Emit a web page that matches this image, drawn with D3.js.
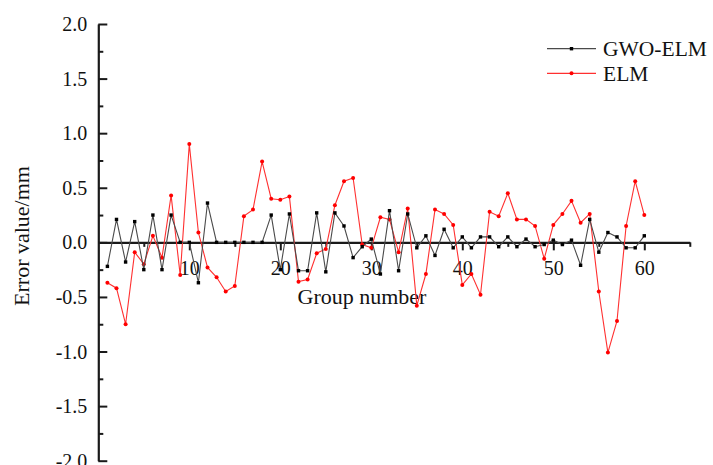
<!DOCTYPE html>
<html>
<head>
<meta charset="utf-8">
<script src="https://cdn.jsdelivr.net/npm/d3@7"></script>
<style>
  body { margin: 0; background: #fff; }
  svg text { font-family: "Liberation Serif", "Times New Roman", serif; fill: #111; }
</style>
</head>
<body>
<div id="chart-area"></div>
<script>
// group numbers 1..60
var groups = [];
for (var i = 1; i <= 60; i++) groups.push(i);

var gwoElm = [
  -0.22, 0.21, -0.18, 0.19, -0.25, 0.25, -0.25, 0.25, 0.00, 0.00,
  -0.37, 0.36, 0.00, 0.00, 0.00, 0.00, 0.00, 0.00, 0.25, -0.25,
  0.26, -0.26, -0.26, 0.27, -0.27, 0.27, 0.15, -0.14, -0.04, 0.03,
  -0.29, 0.29, -0.26, 0.26, -0.05, 0.06, -0.12, 0.12, -0.05, 0.05,
  -0.05, 0.05, 0.05, -0.04, 0.05, -0.04, 0.03, -0.04, -0.02, 0.02,
  -0.02, 0.02, -0.21, 0.21, -0.09, 0.09, 0.05, -0.05, -0.05, 0.06
];

var elm = [
  -0.37, -0.42, -0.75, -0.09, -0.20, 0.06, -0.14, 0.43, -0.30, 0.90,
  0.09, -0.23, -0.32, -0.45, -0.40, 0.24, 0.30, 0.74, 0.40, 0.39,
  0.42, -0.36, -0.34, -0.10, -0.06, 0.34, 0.56, 0.59, -0.02, -0.05,
  0.23, 0.21, -0.09, 0.31, -0.58, -0.29, 0.30, 0.26, 0.16, -0.39,
  -0.29, -0.48, 0.28, 0.24, 0.45, 0.21, 0.21, 0.15, -0.15, 0.16,
  0.26, 0.38, 0.18, 0.26, -0.45, -1.01, -0.72, 0.15, 0.56, 0.25
];

var seriesNames = ["GWO-ELM", "ELM"];
var xMajorTicks = [10, 20, 30, 40, 50, 60];
var xMinorTicks = [5, 15, 25, 35, 45, 55, 65];
var yMajorTicks = [-2.0, -1.5, -1.0, -0.5, 0.0, 0.5, 1.0, 1.5, 2.0];
var yMinorTicks = [-1.75, -1.25, -0.75, -0.25, 0.25, 0.75, 1.25, 1.75];

var W = 713, H = 465;

var svg = d3.select("#chart-area")
    .append("svg")
    .attr("width", W)
    .attr("height", H);

var x = d3.scaleLinear().domain([0, 65]).range([98.3, 689.8]);
var y = d3.scaleLinear().domain([-2, 2]).range([460.7, 24]);

// Y AXIS (ticks point inward)
var yAxisG = svg.append("g")
    .attr("transform", "translate(" + x(0) + ",0)")
    .call(d3.axisLeft(y)
        .tickValues(yMajorTicks)
        .tickSizeInner(-9)
        .tickSizeOuter(0)
        .tickPadding(11)
        .tickFormat(function (d) { return d.toFixed(1); }));

svg.append("g")
    .attr("transform", "translate(" + x(0) + ",0)")
    .call(d3.axisLeft(y)
        .tickValues(yMinorTicks)
        .tickSizeInner(-5)
        .tickSizeOuter(0)
        .tickFormat(""))
    .select(".domain").remove();

yAxisG.selectAll("text").attr("font-size", "20px").attr("dy", "0.33em");

// X AXIS at y = 0
var xAxisG = svg.append("g")
    .attr("transform", "translate(0," + y(0) + ")")
    .call(d3.axisBottom(x)
        .tickValues(xMajorTicks)
        .tickSizeInner(8)
        .tickSizeOuter(0)
        .tickPadding(10)
        .tickFormat(function (d) { return d; }));

svg.append("g")
    .attr("transform", "translate(0," + y(0) + ")")
    .call(d3.axisBottom(x)
        .tickValues(xMinorTicks)
        .tickSizeInner(4.5)
        .tickSizeOuter(0)
        .tickFormat(""))
    .select(".domain").remove();

xAxisG.selectAll("text").attr("font-size", "20px");

svg.selectAll(".domain").attr("stroke", "#1a1a1a").attr("stroke-width", 2.2);
svg.selectAll(".tick line").attr("stroke", "#1a1a1a").attr("stroke-width", 2);

// AXIS TITLES
svg.append("text")
    .attr("x", 362)
    .attr("y", 304)
    .attr("font-size", "22px")
    .attr("text-anchor", "middle")
    .text("Group number");

svg.append("text")
    .attr("transform", "translate(29,236) rotate(-90)")
    .attr("font-size", "22px")
    .attr("text-anchor", "middle")
    .text("Error value/mm");

// SERIES
var line = d3.line()
    .x(function (d, i) { return x(groups[i]); })
    .y(function (d) { return y(d); });

svg.append("path")
    .datum(elm)
    .attr("fill", "none")
    .attr("stroke", "#ff3030")
    .attr("stroke-width", 1.1)
    .attr("d", line);

svg.selectAll(".elm-pt")
    .data(elm)
    .enter().append("circle")
    .attr("class", "elm-pt")
    .attr("cx", function (d, i) { return x(groups[i]); })
    .attr("cy", function (d) { return y(d); })
    .attr("r", 2)
    .attr("fill", "#ff0000");

svg.append("path")
    .datum(gwoElm)
    .attr("fill", "none")
    .attr("stroke", "#4a4a4a")
    .attr("stroke-width", 1.1)
    .attr("d", line);

svg.selectAll(".gwo-pt")
    .data(gwoElm)
    .enter().append("rect")
    .attr("class", "gwo-pt")
    .attr("x", function (d, i) { return x(groups[i]) - 1.7; })
    .attr("y", function (d) { return y(d) - 1.7; })
    .attr("width", 3.4)
    .attr("height", 3.4)
    .attr("fill", "#000");

// LEGEND
var legend = svg.append("g").attr("transform", "translate(547,0)");
var legendColors = ["#4a4a4a", "#ff3030"];
var legendYs = [48.7, 73.3];

seriesNames.forEach(function (name, k) {
    legend.append("line")
        .attr("x1", 0).attr("x2", 49)
        .attr("y1", legendYs[k]).attr("y2", legendYs[k])
        .attr("stroke", legendColors[k])
        .attr("stroke-width", 1.2);
    if (k === 0) {
        legend.append("rect")
            .attr("x", 24.5 - 1.7).attr("y", legendYs[k] - 1.7)
            .attr("width", 3.4).attr("height", 3.4)
            .attr("fill", "#000");
    } else {
        legend.append("circle")
            .attr("cx", 24.5).attr("cy", legendYs[k])
            .attr("r", 2).attr("fill", "#ff0000");
    }
    legend.append("text")
        .attr("x", 56)
        .attr("y", legendYs[k] + 7.5)
        .attr("font-size", "21.5px")
        .text(name);
});
</script>
</body>
</html>
